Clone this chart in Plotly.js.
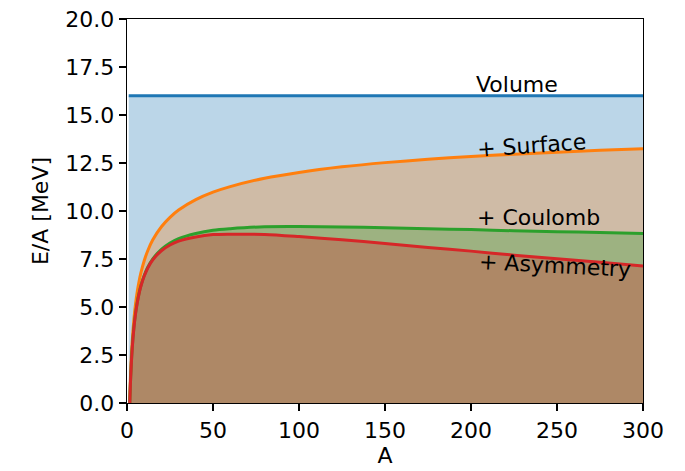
<!DOCTYPE html>
<html>
<head>
<meta charset="utf-8">
<script src="https://cdn.plot.ly/plotly-3.0.1.min.js"></script>
<style>html,body{margin:0;padding:0;background:#fff;}#chart{width:685px;height:471px;}</style>
</head>
<body>
<div id="chart"></div>
<script>
// Mass number A (x values)
var massNumber = [1, 1.5, 2, 3, 4, 5, 6, 7, 8, 10, 12, 15, 20, 25, 30, 40, 50, 60, 80, 100, 125, 150, 175, 200, 225, 250, 275, 300];
// E/A [MeV]
var volume     = [16, 16, 16, 16, 16, 16, 16, 16, 16, 16, 16, 16, 16, 16, 16, 16, 16, 16, 16, 16, 16, 16, 16, 16, 16, 16, 16, 16];
var surface    = [-2.5, -0.16, 1.32, 3.17, 4.34, 5.18, 5.82, 6.33, 6.75, 7.41, 7.92, 8.50, 9.18, 9.67, 10.05, 10.59, 10.98, 11.27, 11.71, 12.01, 12.30, 12.52, 12.69, 12.84, 12.96, 13.06, 13.16, 13.24];
var coulomb    = [-2.68, -0.39, 1.04, 2.81, 3.91, 4.68, 5.26, 5.71, 6.08, 6.64, 7.06, 7.51, 8.00, 8.33, 8.56, 8.83, 9.00, 9.08, 9.18, 9.19, 9.17, 9.13, 9.07, 9.03, 8.97, 8.92, 8.88, 8.83];
var asymmetry  = [-2.68, -0.39, 1.04, 2.80, 3.90, 4.67, 5.24, 5.69, 6.06, 6.61, 7.02, 7.46, 7.93, 8.23, 8.43, 8.65, 8.77, 8.79, 8.78, 8.67, 8.50, 8.31, 8.10, 7.91, 7.70, 7.51, 7.33, 7.13];

var xTicks = [0, 50, 100, 150, 200, 250, 300];
var yTicks = [0, 2.5, 5, 7.5, 10, 12.5, 15, 17.5, 20];
var yTickText = ["0.0", "2.5", "5.0", "7.5", "10.0", "12.5", "15.0", "17.5", "20.0"];

var labels = ["Volume", "+ Surface", "+ Coulomb", "+ Asymmetry"];
var labelX = [226.5, 235, 239.2, 249.1];
var labelY = [16.6, 13.43, 9.64, 7.15];
var labelAngle = [0, -4, 0, 3];

var series = [volume, surface, coulomb, asymmetry];
var lineColors = ["#1f77b4", "#ff7f0e", "#2ca02c", "#d62728"];
var fillColors = ["rgba(31,119,180,0.3)", "rgba(255,127,14,0.3)", "rgba(44,160,44,0.3)", "rgba(214,39,40,0.3)"];

var traces = series.map(function (ys, i) {
  return {
    x: massNumber, y: ys, type: "scatter", mode: "lines",
    line: {color: lineColors[i], width: 3, shape: "spline", smoothing: 0.8},
    fill: "tozeroy", fillcolor: fillColors[i],
    hoverinfo: "skip", showlegend: false, cliponaxis: true
  };
});

var font = {family: "DejaVu Sans, sans-serif", size: 22, color: "#000"};

var annotations = labels.map(function (t, i) {
  return {
    x: labelX[i], y: labelY[i], xref: "x", yref: "y", text: t, showarrow: false,
    xanchor: "center", yanchor: "middle", textangle: labelAngle[i], font: font
  };
});

var layout = {
  width: 685, height: 471,
  margin: {l: 127, r: 42, t: 19, b: 68, pad: 0},
  paper_bgcolor: "#fff", plot_bgcolor: "#fff",
  font: font,
  showlegend: false,
  xaxis: {
    range: [0, 300], tickvals: xTicks, ticktext: xTicks.map(String),
    showgrid: false, zeroline: false, showline: true, mirror: true,
    linecolor: "#000", linewidth: 1.3, ticks: "outside", ticklen: 7, tickwidth: 1.3, tickcolor: "#000",
    tickfont: font, title: {text: "A", font: font, standoff: 6}
  },
  yaxis: {
    range: [0, 20], tickvals: yTicks, ticktext: yTickText,
    showgrid: false, zeroline: false, showline: true, mirror: true,
    linecolor: "#000", linewidth: 1.3, ticks: "outside", ticklen: 7, tickwidth: 1.3, tickcolor: "#000",
    tickfont: font, title: {text: "E/A [MeV]", font: font, standoff: 10}
  },
  annotations: annotations
};

Plotly.newPlot("chart", traces, layout, {staticPlot: true, displayModeBar: false});
</script>
</body>
</html>
